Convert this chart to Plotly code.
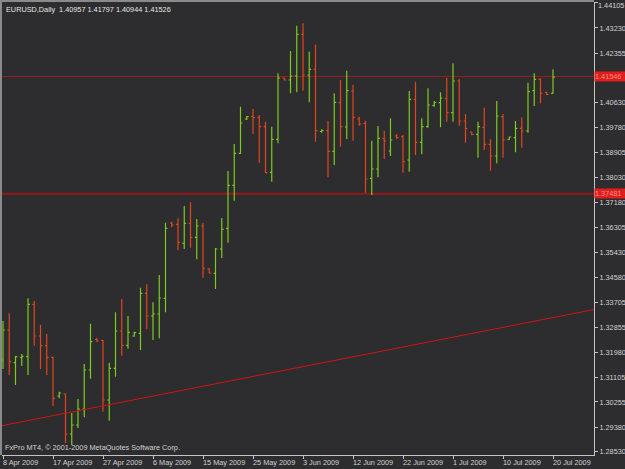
import plotly.graph_objects as go

# ---- data (EURUSD daily, 8 Apr 2009 - 20 Jul 2009, incl. Sunday bars)
opens = [1.31711, 1.32751, 1.31617, 1.31797, 1.31825, 1.33643, 1.32543, 1.32207, 1.31804, 1.30462,
         1.30531, 1.29144, 1.29456, 1.30000, 1.31364, 1.32422, 1.32394, 1.30323, 1.31423, 1.32717,
         1.32221, 1.32543, 1.32637, 1.34024, 1.33237, 1.33306, 1.33851, 1.36463, 1.36418, 1.35759,
         1.36453, 1.35967, 1.36359, 1.34867, 1.34718, 1.35561, 1.36279, 1.37771, 1.38881, 1.40071,
         1.40158, 1.40130, 1.39804, 1.38222, 1.39367, 1.41493, 1.41424, 1.41563, 1.43009, 1.41597,
         1.41795, 1.39637, 1.39665, 1.38950, 1.40636, 1.39793, 1.41042, 1.40071, 1.39922, 1.38014,
         1.38336, 1.39394, 1.38961, 1.39481, 1.39457, 1.38649, 1.40754, 1.39263, 1.39804, 1.40539,
         1.40636, 1.40789, 1.40289, 1.41389, 1.40002, 1.39620, 1.39540, 1.39783, 1.39193, 1.38787,
         1.40151, 1.39360, 1.39422, 1.39748, 1.39655, 1.41053, 1.41448, 1.40990, 1.40957]
highs = [1.33064, 1.33331, 1.31849, 1.31919, 1.33851, 1.33757, 1.32925, 1.32613, 1.31820, 1.30611,
         1.30550, 1.29872, 1.30358, 1.31572, 1.32970, 1.32484, 1.32404, 1.31617, 1.33365, 1.33827,
         1.33237, 1.32692, 1.34219, 1.34337, 1.33712, 1.34659, 1.36474, 1.36508, 1.36626, 1.37053,
         1.37181, 1.36602, 1.36474, 1.34892, 1.35596, 1.36637, 1.38267, 1.39204, 1.40498, 1.40175,
         1.40418, 1.40210, 1.39977, 1.39804, 1.41656, 1.41511, 1.42430, 1.43308, 1.43391, 1.42406,
         1.42655, 1.39714, 1.40002, 1.40962, 1.41424, 1.41746, 1.41250, 1.40151, 1.40012, 1.39318,
         1.39828, 1.39665, 1.40095, 1.39551, 1.39516, 1.41042, 1.41365, 1.40095, 1.41136, 1.40695,
         1.40997, 1.41504, 1.42003, 1.41459, 1.40244, 1.39630, 1.39977, 1.40463, 1.39367, 1.40695,
         1.40244, 1.39457, 1.40002, 1.40130, 1.41330, 1.41656, 1.41483, 1.41018, 1.41797]
lows = [1.31398, 1.31190, 1.30843, 1.31502, 1.31190, 1.32207, 1.31398, 1.31190, 1.30115, 1.30382,
        1.28831, 1.28762, 1.29352, 1.29723, 1.31062, 1.32345, 1.29917, 1.29605, 1.31131, 1.31860,
        1.32103, 1.32519, 1.32058, 1.32776, 1.32404, 1.32463, 1.33365, 1.36314, 1.35527, 1.35561,
        1.35606, 1.35204, 1.34566, 1.34711, 1.34174, 1.35249, 1.35780, 1.37237, 1.38860, 1.40036,
        1.39551, 1.38555, 1.38190, 1.37896, 1.39228, 1.41407, 1.40962, 1.40997, 1.41053, 1.40650,
        1.39283, 1.39596, 1.38049, 1.38475, 1.39110, 1.39377, 1.39318, 1.39838, 1.37514, 1.37434,
        1.38049, 1.38683, 1.38787, 1.39367, 1.38208, 1.38243, 1.38822, 1.38846, 1.39769, 1.40498,
        1.39783, 1.39977, 1.39977, 1.39838, 1.39249, 1.39505, 1.38728, 1.38996, 1.38277, 1.38534,
        1.38728, 1.39342, 1.38916, 1.39075, 1.39596, 1.40522, 1.40616, 1.40903, 1.40944]
closes = [1.32751, 1.31652, 1.31825, 1.31832, 1.33643, 1.32543, 1.32207, 1.31804, 1.30382, 1.30566,
          1.29144, 1.29456, 1.30011, 1.31364, 1.32345, 1.32370, 1.30323, 1.31423, 1.32717, 1.32221,
          1.32672, 1.32658, 1.34024, 1.33237, 1.33306, 1.33861, 1.36279, 1.36394, 1.35794, 1.36453,
          1.35967, 1.36359, 1.34892, 1.34729, 1.35561, 1.36245, 1.37771, 1.38881, 1.39932, 1.40151,
          1.40123, 1.39804, 1.38208, 1.39367, 1.41493, 1.41424, 1.41563, 1.43009, 1.41597, 1.41795,
          1.39665, 1.39672, 1.38950, 1.40650, 1.39804, 1.41053, 1.40130, 1.39897, 1.37990, 1.38336,
          1.39401, 1.39308, 1.39342, 1.39429, 1.38590, 1.40754, 1.39263, 1.39804, 1.40557, 1.40643,
          1.40799, 1.40289, 1.41389, 1.40002, 1.39748, 1.39533, 1.39804, 1.39193, 1.38787, 1.40175,
          1.39342, 1.39446, 1.39748, 1.39655, 1.41018, 1.41448, 1.40962, 1.40921, 1.41526]

date_tick_pos = [0, 8, 16, 24, 32, 40, 48, 56, 64, 72, 80, 88]
date_tick_labels = ["8 Apr 2009", "17 Apr 2009", "27 Apr 2009", "6 May 2009", "15 May 2009",
                    "25 May 2009", "3 Jun 2009", "12 Jun 2009", "22 Jun 2009", "1 Jul 2009",
                    "10 Jul 2009", "20 Jul 2009"]
price_ticks = [1.44105, 1.43230, 1.42355, 1.40630, 1.39780, 1.38905, 1.38030, 1.37180, 1.36305,
               1.35430, 1.34580, 1.33705, 1.32855, 1.31980, 1.31105, 1.30255, 1.29380, 1.28530]
price_tick_labels = ["1.44105", "1.43230", "1.42355", "1.40630", "1.39780", "1.38905", "1.38030",
                     "1.37180", "1.36305", "1.35430", "1.34580", "1.33705", "1.32855", "1.31980",
                     "1.31105", "1.30255", "1.29380", "1.28530"]
level_prices = [1.41546, 1.37481]
level_labels = ["1.41546", "1.37481"]
trend_x = [-0.16, 94.56]
trend_y = [1.29432, 1.33462]
header_text = "EURUSD,Daily  1.40957 1.41797 1.40944 1.41526"
footer_text = "FxPro MT4, \u00a9 2001-2009 MetaQuotes Software Corp."

# ---- styling
BG = "#2d2c2f"
GREEN = "#7ccc1c"
RED = "#e2461a"
TXT = "#d2d2d2"
AXIS = "#c4c4c4"
FONT = "Liberation Sans"
FS = 7.3

bar_x = list(range(len(opens)))

# the top-most price label sits at the very edge: draw it as an annotation kept inside the page
axis_ticktext = [""] + price_tick_labels[1:]

fig = go.Figure()
fig.add_trace(go.Ohlc(
    x=bar_x, open=opens, high=highs, low=lows, close=closes,
    increasing=dict(line=dict(color=GREEN, width=1.2)),
    decreasing=dict(line=dict(color=RED, width=1.2)),
    tickwidth=0.3, hoverinfo="skip", showlegend=False,
))
fig.add_trace(go.Scatter(
    x=trend_x, y=trend_y, mode="lines",
    line=dict(color="#d01414", width=1), hoverinfo="skip", showlegend=False,
))

shapes = [
    dict(type="line", xref="paper", yref="y", x0=0, x1=1, y0=level_prices[0], y1=level_prices[0],
         line=dict(color="#96211f", width=1), layer="below"),
    dict(type="line", xref="paper", yref="y", x0=0, x1=1, y0=level_prices[1], y1=level_prices[1],
         line=dict(color="#931a1a", width=2), layer="below"),
    # left / top frame
    dict(type="line", xref="paper", yref="paper", x0=-1/592, x1=-1/592, y0=0, y1=1 + 1/453,
         line=dict(color="#8a8a8a", width=2)),
    dict(type="line", xref="paper", yref="paper", x0=-2/592, x1=1, y0=1 + 1/453, y1=1 + 1/453,
         line=dict(color="#8a8a8a", width=2)),
]

annotations = []
for pos, lab in zip(date_tick_pos, date_tick_labels):
    annotations.append(dict(x=pos, xref="x", y=0, yref="paper", text=lab, showarrow=False,
                            xanchor="left", yanchor="top", xshift=-2, yshift=-1,
                            font=dict(family=FONT, size=FS, color=TXT)))
for lv, lab in zip(level_prices, level_labels):
    annotations.append(dict(x=1, xref="paper", y=lv, yref="y", text=lab, showarrow=False,
                            xanchor="left", yanchor="middle", align="left", width=30, height=9,
                            bgcolor="#e01f1c", borderpad=0,
                            font=dict(family=FONT, size=FS, color="#ff8a86")))
annotations.append(dict(x=1, xref="paper", y=price_ticks[0], yref="y", text=price_tick_labels[0],
                        showarrow=False, xanchor="left", yanchor="top", xshift=3, yshift=3,
                        borderpad=0, font=dict(family=FONT, size=FS, color=TXT)))
annotations.append(dict(x=0, xref="paper", y=1, yref="paper", text=header_text, showarrow=False,
                        xanchor="left", yanchor="top", xshift=2, yshift=-1,
                        font=dict(family=FONT, size=FS, color="#e6e6e6")))
annotations.append(dict(x=0, xref="paper", y=0, yref="paper", text=footer_text, showarrow=False,
                        xanchor="left", yanchor="bottom", xshift=1, yshift=1,
                        font=dict(family=FONT, size=FS, color=TXT)))

fig.update_layout(
    width=625, height=469,
    margin=dict(l=2, r=31, t=2, b=14, autoexpand=False),
    paper_bgcolor=BG, plot_bgcolor=BG,
    font=dict(family=FONT, size=FS, color=TXT),
    shapes=shapes, annotations=annotations,
    xaxis=dict(range=[-0.16, 94.56], rangeslider=dict(visible=False), showgrid=False,
               zeroline=False, showline=True, linecolor=AXIS, linewidth=1, automargin=False,
               tickmode="array", tickvals=date_tick_pos, ticktext=[""] * len(date_tick_pos),
               ticks="outside", ticklen=3, tickcolor=AXIS, showticklabels=False, fixedrange=True),
    yaxis=dict(range=[1.28415, 1.44130], side="right", showgrid=False, zeroline=False,
               showline=True, linecolor=AXIS, linewidth=1, automargin=False,
               tickmode="array", tickvals=price_ticks, ticktext=axis_ticktext,
               ticks="outside", ticklen=3, tickcolor=AXIS, ticklabeloverflow="allow",
               tickfont=dict(family=FONT, size=FS, color=TXT), fixedrange=True),
)

fig.write_html("out.html")
